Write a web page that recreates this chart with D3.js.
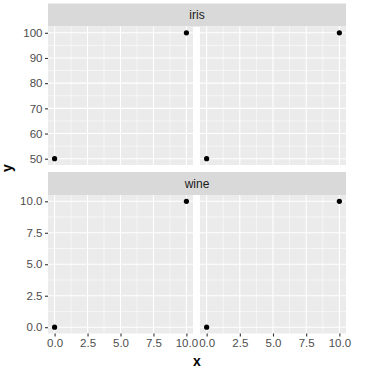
<!DOCTYPE html>
<html>
<head>
<meta charset="utf-8">
<script src="https://cdn.jsdelivr.net/npm/d3@7"></script>
<style>
  body { margin: 0; background: #fff; }
  text { font-family: "Liberation Sans", Arial, sans-serif; }
</style>
</head>
<body>
<div id="chart"></div>
<script>
// data
const facets = ["iris", "wine"];
const xValues = [0, 10];
const irisY = [50, 100];
const wineY = [0, 10];
const xTicks = [0, 2.5, 5, 7.5, 10];
const irisTicks = [50, 60, 70, 80, 90, 100];
const wineTicks = [0, 2.5, 5, 7.5, 10];

const width = 373, height = 371;
const svg = d3.select("#chart").append("svg").attr("width", width).attr("height", height);

// layout
const colX = [[48, 193], [200, 346]];
const stripH = 23, panelH = 138.5, topY = 3.5, rowGap = 7;

const rows = [
  { name: facets[0], ys: irisY, ticks: irisTicks, fmt: d3.format("d") },
  { name: facets[1], ys: wineY, ticks: wineTicks, fmt: d3.format(".1f") }
];

// ggplot style 5% expansion
const expand = (lo, hi) => { const p = (hi - lo) * 0.05; return [lo - p, hi + p]; };

rows.forEach((row, ri) => {
  const stripTop = topY + ri * (stripH + panelH + rowGap);
  const pTop = stripTop + stripH, pBot = pTop + panelH;

  // strip across both panels
  svg.append("rect")
    .attr("x", colX[0][0]).attr("y", stripTop)
    .attr("width", colX[1][1] - colX[0][0]).attr("height", stripH)
    .attr("fill", "#d9d9d9");
  svg.append("text")
    .attr("x", (colX[0][0] + colX[1][1]) / 2).attr("y", stripTop + stripH / 2 + 4)
    .attr("text-anchor", "middle").attr("font-size", 12).attr("fill", "#1a1a1a")
    .text(row.name);

  const y = d3.scaleLinear().domain(expand(d3.min(row.ticks), d3.max(row.ticks))).range([pBot, pTop]);
  const yMinor = d3.pairs(row.ticks).map(p => (p[0] + p[1]) / 2);

  colX.forEach((cx, ci) => {
    const x = d3.scaleLinear().domain(expand(0, 10)).range(cx);
    const xMinor = d3.pairs(xTicks).map(p => (p[0] + p[1]) / 2);
    const g = svg.append("g");

    g.append("rect").attr("x", cx[0]).attr("y", pTop)
      .attr("width", cx[1] - cx[0]).attr("height", panelH).attr("fill", "#ebebeb");

    // minor grid
    g.selectAll(".vmin").data(xMinor).join("line").attr("class", "vmin")
      .attr("x1", d => x(d)).attr("x2", d => x(d)).attr("y1", pTop).attr("y2", pBot)
      .attr("stroke", "#fff").attr("stroke-width", 0.55);
    g.selectAll(".hmin").data(yMinor).join("line").attr("class", "hmin")
      .attr("y1", d => y(d)).attr("y2", d => y(d)).attr("x1", cx[0]).attr("x2", cx[1])
      .attr("stroke", "#fff").attr("stroke-width", 0.55);
    // major grid
    g.selectAll(".vmaj").data(xTicks).join("line").attr("class", "vmaj")
      .attr("x1", d => x(d)).attr("x2", d => x(d)).attr("y1", pTop).attr("y2", pBot)
      .attr("stroke", "#fff").attr("stroke-width", 1.1);
    g.selectAll(".hmaj").data(row.ticks).join("line").attr("class", "hmaj")
      .attr("y1", d => y(d)).attr("y2", d => y(d)).attr("x1", cx[0]).attr("x2", cx[1])
      .attr("stroke", "#fff").attr("stroke-width", 1.1);

    // points
    g.selectAll("circle").data(xValues).join("circle")
      .attr("cx", d => x(d)).attr("cy", (d, i) => y(row.ys[i]))
      .attr("r", 2.6).attr("fill", "#000");

    // y axis on left column only
    if (ci === 0) {
      const ya = svg.append("g").attr("transform", `translate(${cx[0]},0)`)
        .call(d3.axisLeft(y).tickValues(row.ticks).tickFormat(row.fmt).tickSize(3).tickPadding(2.5));
      ya.select(".domain").remove();
      ya.selectAll("line").attr("stroke", "#333").attr("stroke-width", 1.1);
      ya.selectAll("text").attr("font-size", 11.5).attr("fill", "#4d4d4d")
        .attr("font-family", "Liberation Sans, Arial, sans-serif");
    }
    // x axis on bottom row only
    if (ri === rows.length - 1) {
      const xa = svg.append("g").attr("transform", `translate(0,${pBot})`)
        .call(d3.axisBottom(x).tickValues(xTicks).tickFormat(d3.format(".1f")).tickSize(3).tickPadding(2.5));
      xa.select(".domain").remove();
      xa.selectAll("line").attr("stroke", "#333").attr("stroke-width", 1.1);
      xa.selectAll("text").attr("font-size", 11.5).attr("fill", "#4d4d4d")
        .attr("font-family", "Liberation Sans, Arial, sans-serif");
    }
  });
});

// axis titles
svg.append("text").attr("x", (colX[0][0] + colX[1][1]) / 2).attr("y", 366)
  .attr("text-anchor", "middle").attr("font-size", 14).attr("font-weight", "bold").text("x");
svg.append("text").attr("transform", "translate(12,168) rotate(-90)")
  .attr("text-anchor", "middle").attr("font-size", 14).attr("font-weight", "bold").text("y");
</script>
</body>
</html>
